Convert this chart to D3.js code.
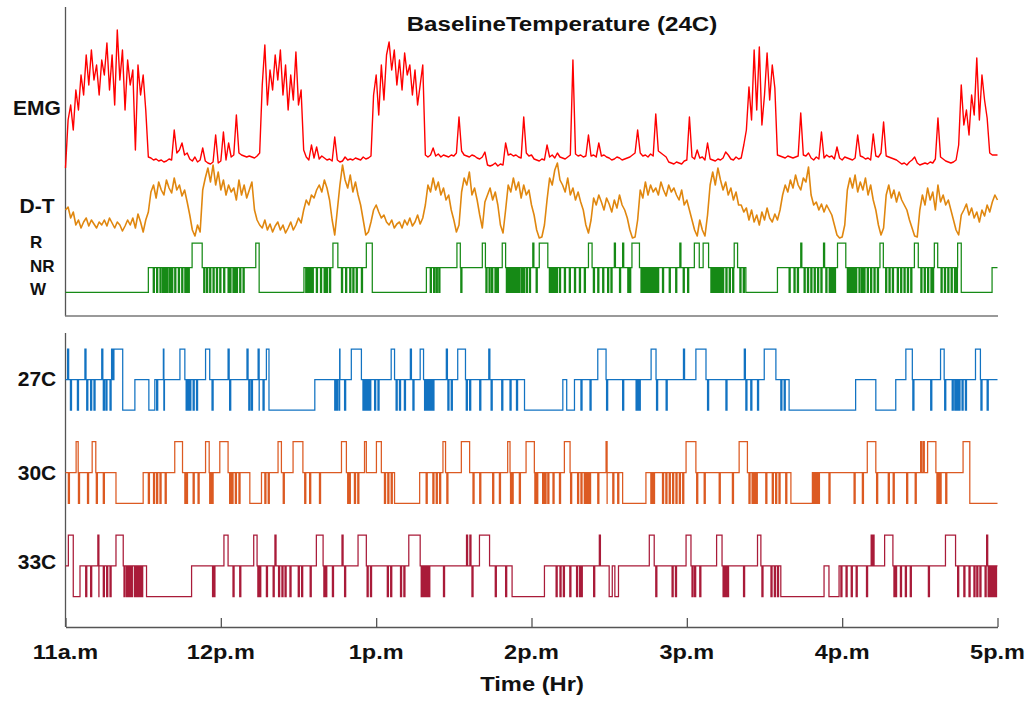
<!DOCTYPE html>
<html>
<head>
<meta charset="utf-8">
<script src="https://cdn.jsdelivr.net/npm/d3@7"></script>
<style>
html,body{margin:0;padding:0;background:#fff;}
svg{display:block;}
text{font-family:"Liberation Sans",Arial,Helvetica,sans-serif;font-weight:bold;fill:#111;}
</style>
</head>
<body>
<svg id="chart" width="1032" height="702"></svg>
<script>
// ---------------- DATA ----------------
const title = "BaselineTemperature (24C)";
const xLabel = "Time (Hr)";
const hourTicks = [0, 60, 120, 180, 240, 300, 360];           // minutes after 11 a.m.
const hourLabels = ["11a.m", "12p.m", "1p.m", "2p.m", "3p.m", "4p.m", "5p.m"];
const stateNames = ["W", "NR", "R"];

// EMG, one sample per minute (0..360), arbitrary units
const emg = [
 -3,45,60,35,75,55,90,70,110,80,115,85,100,70,105,90,122,75,110,60,135,85,115,55,105,80,95,15,100,70,90,55,8,
 7,5,6,4,5,3,4,6,5,35,12,15,22,10,12,6,4,8,3,5,17,4,2,1,3,30,2,4,33,5,22,8,10,50,12,10,9,8,9,8,7,9,12,
 80,120,60,95,75,110,85,115,70,100,55,90,65,113,60,75,15,
 8,5,20,7,18,6,9,7,5,6,4,28,5,3,4,8,5,6,5,7,6,5,8,6,7,9,
 70,90,50,100,65,110,123,95,115,80,105,75,112,90,100,70,95,60,80,100,10,
 8,10,17,9,11,8,10,9,8,10, 9,12,48,14,10,9,8,10,9,7, 6,8,13,0,-1,0,2,-1,1,0,
 22,10,11,9,10,8,7,48,12,9, 10,6,5,4,6,5,20,8,10,7, 12,8,7,6,8,10,105,11,9,10,
 8,9,30,9,10,8,22,9,10,8, 7,5,6,8,7,5,6,7,8,10, 12,35,12,9,10,8,11,9,51,14,
 12,10,8,3,2,1,3,2,1,4, 5,48,8,6,15,7,8,5,22,6, 5,4,6,5,7,13,10,6,5,8, 6,7,
 20,35,78,45,115,55,118,40,70,112,65,100,77,10,
 9,8,7,9,8,7,8,9,52,10, 9,12,7,5,8,6,33,7,10,8, 9,6,18,7,5,8,7,6,5,7,
 30,9,8,6,7,5,31,9,8,12, 43,9,8,7,6,5,3,1,2,0, 3,5,8,2,0,1,2,1,3,2, 6,47,8,6,4,3,2,3,5,20,
 80,40,55,30,70,50,107,45,90,65,47,12,10,10,10
];

// D-T, one sample per minute (0..360), arbitrary units
const dt = [
 30,33,22,28,15,20,12,18,22,14,20,16,12,18,15,20,14,22,17,12,18,15,9,14,20,15,22,12,26,18,8,20,28,
 48,55,42,58,50,45,60,52,47,62,50,55,44,50,38,25,10,4,15,8,50,62,72,58,75,55,68,50,60,45,55,48,52,40,60,45,55,42,50,58,30,20,15,
 12,20,10,16,8,14,18,10,15,7,12,18,10,15,22,17,30,
 40,35,45,42,50,55,48,60,52,40,20,5,30,55,75,60,52,65,48,58,45,35,20,5,8,18,
 30,35,28,22,25,18,15,20,12,16,18,12,20,15,22,14,18,25,16,22,35,
 55,48,62,50,58,45,52,40,45,30, 20,8,15,48,62,55,68,45,52,40, 25,12,38,45,52,40,48,35,15,7,
 30,55,48,62,50,58,42,55,45,50, 35,25,10,2,3,15,40,62,55,70, 77,60,55,48,62,45,52,40,48,38,
 30,15,7,20,42,35,45,38,30,42, 36,28,40,32,45,35,30,22,10,2, 3,20,50,42,58,45,55,48,52,45,
 58,50,44,55,48,52,45,40,50,35, 40,
 30,20,10,4,20,10,4,25,55,68,55,72,60,50,58,45,52,40,48,35,
 35,28,32,20,30,18,25,15,28,20,32,22,18,26,20,30,
 45,55,48,60,52,65,55,50,62,58,73,45,35,38,30,36,28,35,30,25,15,5,2,3,15,50,62,52,65,48,58,50,62,45,55,40,30,15,5,12,
 45,55,42,50,38,48,40,35,30,20,12,4,3,30,45,35,52,40,48,30,55,38,45,35,40,30,20,10,5,
 25,30,36,25,32,22,28,18,30,24,35,28,38,45,40
];

// Hypnograms: main bouts [start minute, state], brief W arousals, brief R intrusions (minutes)
const baseBouts = [[0,"W"],[32,"NR"],[48.9,"R"],[52.8,"NR"],[73.5,"R"],[74.8,"W"],[92.1,"NR"],[103.3,"R"],[105.2,"NR"],
 [116.2,"R"],[118.5,"W"],[139.4,"NR"],[151.2,"R"],[152.5,"NR"],[161,"R"],[162.2,"NR"],[168.7,"R"],[170,"NR"],[183,"R"],
 [186.3,"NR"],[202,"R"],[203.4,"NR"],[218.8,"R"],[221.7,"NR"],[242.9,"R"],[244.8,"NR"],[246.3,"R"],[248.4,"NR"],
 [258.3,"R"],[259.6,"NR"],[262.8,"W"],[275,"NR"],[298.2,"R"],[301.4,"NR"],[314.6,"R"],[315.9,"NR"],[327.9,"R"],
 [329.4,"NR"],[335.6,"R"],[336.9,"NR"],[344.6,"R"],[346,"W"],[357.9,"NR"]];
const baseArousals = [33.9,35.2,36.5,37.5,38.4,39.1,40.1,41,42.2,43.6,44.9,46.1,46.8,47.4,53.4,54.5,55.7,57,58.3,59.6,61.1,
 62.8,63.5,64.7,65.4,66,67.3,68.6,92.8,93.4,94,94.6,95.3,96.9,98.5,99.9,100.8,102,106.6,108.2,109.8,111,112.3,114.3,
 140.9,142.2,143.2,144.2,152.7,162.4,163.6,164.6,165.9,166.8,170.3,170.9,171.7,172.5,173.4,174.1,175,176,176.9,178,
 179.2,181.8,186.9,187.6,188.3,189,189.6,190.8,192.7,194.6,196.6,198.5,200.4,203.9,205.6,207.5,209.4,210.7,214,217.2,
 217.9,222.3,223,223.6,224.3,224.9,225.6,226.3,227,227.8,228.7,230.6,233.2,235.7,238.6,240.3,249.3,249.9,250.6,251.2,
 251.9,252.5,253.2,253.8,255.1,256.4,257.7,260.5,261.8,279.5,281.4,282.7,285.3,286.6,287.9,289.2,290.5,291.8,293.7,
 295,295.7,296.3,297,302,302.7,303.3,303.9,304.6,305.2,306.5,307.5,308.4,309.7,311,312.3,313.6,316.8,318.1,319.4,
 321.3,322.6,323.9,325.2,326.5,330.4,331.7,333,334.3,334.9,338.2,339.5,340.8,342.1,343.4,344.1];
const baseIntrusions = [180.5,212,215.2,237.3,284,292.8];

const c27Bouts = [[0,"NR"],[18.7,"R"],[22.1,"W"],[26.8,"NR"],[32.2,"W"],[34.5,"NR"],[44.2,"R"],[46.1,"NR"],[54.1,"R"],
 [55.7,"NR"],[77.6,"R"],[78.6,"W"],[96.3,"NR"],[110.4,"R"],[114.3,"NR"],[125.8,"R"],[127.1,"NR"],[137,"R"],[138.3,"NR"],
 [151.5,"R"],[154.5,"NR"],[177.3,"W"],[192.1,"NR"],[193.6,"W"],[196.6,"NR"],[205.6,"R"],[208.8,"NR"],[226.2,"R"],
 [228.1,"NR"],[243.5,"R"],[247.4,"NR"],[269.9,"R"],[274.4,"NR"],[279.5,"W"],[305.2,"NR"],[313,"W"],[320.7,"NR"],
 [324.6,"R"],[327.1,"NR"],[338,"R"],[339.4,"NR"],[351.5,"R"],[353.4,"NR"]];
const c27Arousals = [1.9,4.6,8.2,9.7,11,14.6,15.6,17.2,35.2,38,46.6,47.3,48,49.3,50.6,56.6,63.4,70.8,71.8,74.8,76.3,
 104,104.6,105.6,107.8,114.9,115.6,116.2,116.9,117.5,119.4,120.7,127.7,129,130.9,134.2,138.7,139.3,140,140.6,141.3,
 141.9,147.7,149,154.8,156.1,160,164.4,168.5,171.7,174.2,199.1,202.6,209,215.2,220.4,221,221.6,228.3,232,248,255.1,
 262.8,264.7,267.3,276.3,277.6,327.3,334.2,339.6,342.5,343.5,344.3,345.1,346.3,347.6,353.6,356];
const c27Intrusions = [0.8,7.5,14,17.8,37.8,62.8,70.1,74.4,105.9,133.2,147.1,163.5,238.7,262.2];

const c30Bouts = [[0,"NR"],[4.1,"R"],[4.9,"NR"],[10.3,"R"],[11.7,"NR"],[19.5,"W"],[30,"NR"],[42.2,"R"],[45.2,"NR"],
 [54.1,"R"],[55.5,"NR"],[59.6,"R"],[62.8,"NR"],[71.2,"W"],[75.7,"NR"],[82.1,"R"],[83.4,"NR"],[87.9,"R"],[91.7,"NR"],
 [106.6,"R"],[108.5,"NR"],[115.5,"R"],[116.2,"NR"],[120.1,"R"],[122,"NR"],[127.1,"W"],[136.8,"NR"],[145.8,"R"],
 [146.8,"NR"],[152.9,"R"],[156.1,"NR"],[170.8,"R"],[171.7,"NR"],[177.9,"R"],[181.1,"NR"],[192.7,"R"],[194.9,"NR"],
 [215.2,"W"],[224.2,"NR"],[239.7,"R"],[243.5,"NR"],[260.2,"R"],[263.4,"NR"],[280.2,"W"],[288.5,"NR"],[309.7,"R"],
 [313,"NR"],[333,"R"],[336.2,"NR"],[346.7,"R"],[349.3,"W"]];
const c30Arousals = [1.1,5,8.5,11.9,14.6,32,34,35.2,36.5,38.5,46.1,46.7,49.3,51.2,55.7,56.6,63.4,64.3,65.6,67,77,78.3,
 84.1,92.4,94.3,98.1,109,109.6,111.6,112.9,123.2,124.5,125.8,139.3,141.9,143.2,144.5,147.3,157.4,160,165,167.6,171.9,
 172.5,175.3,181.3,182,184.3,185.2,186.3,188.3,190.8,195.1,197.8,199.1,200.4,201,201.6,202.4,205.6,209.2,211.4,213.3,
 226.1,226.6,227.1,230.6,231.9,233.2,234.5,235.8,237.1,238.4,243.8,246.7,252.5,257.6,264,265.2,266,266.8,270.5,273,
 274.3,275.6,278.2,288.8,289.3,289.8,290.3,290.8,294.9,304.6,307.8,313.3,317.8,319.7,324.9,328.2,336.6,337.2,337.8,340];
const c30Intrusions = [208.8,330.3,331.3];

const c33Bouts = [[0,"NR"],[1.1,"R"],[3,"W"],[5.6,"NR"],[19.5,"R"],[22.3,"NR"],[31.3,"W"],[48.7,"NR"],[61.2,"R"],
 [62.8,"NR"],[72.7,"R"],[74,"NR"],[96.9,"R"],[99.5,"NR"],[113,"R"],[116.2,"NR"],[132.6,"R"],[137,"NR"],[159.9,"R"],
 [163.8,"NR"],[172.5,"W"],[185,"NR"],[210,"W"],[211.2,"NR"],[212.2,"W"],[213.6,"NR"],[225.5,"R"],[227.4,"NR"],
 [239.7,"R"],[241.6,"NR"],[251.5,"R"],[253.6,"NR"],[267.3,"R"],[268.6,"NR"],[276.3,"W"],[293,"NR"],[294.9,"W"],
 [298.8,"NR"],[316.4,"R"],[319.6,"NR"],[339.9,"R"],[343.8,"NR"]];
const c33Arousals = [7.8,9.7,12.9,14.6,15.9,17.2,22.6,23.6,24.5,25.4,26.6,27.5,28.2,28.8,29.4,56.8,57.3,64.7,67.3,74.3,
 75,77.6,80.2,82.3,83.6,84.8,86.7,89.9,91.2,94.5,99.8,100.5,103.1,107.8,116.5,117.8,124.3,125.6,129.4,130.7,137.4,
 137.9,138.4,139,139.6,140.3,146,157,166,170,189.5,191,192.3,194.8,197.4,198.6,199.2,204,228,234.3,235.6,242,243,245,
 254,254.6,255.2,255.7,261.9,269,272.5,273.8,275,299.5,301.5,303.5,305.4,309.4,320,320.6,322.5,324.4,326.3,333.3,
 344.6,347,349,350.9,352,353.2,355.2,356.4,357.1,357.8,358.5,359.2];
const c33Intrusions = [12.5,80.9,106.8,154.9,156.2,206.2,311.2,311.9,355.8];

// ---------------- DRAW ----------------
const svg = d3.select("#chart");
const x = d3.scaleLinear().domain([0, 360]).range([65.5, 997.5]);
const axisColor = "#555";

function buildSteps(bouts, arousals, intrusions, w) {
  const idx = s => stateNames.indexOf(s);
  const stateAt = t => { let s = idx(bouts[0][1]); for (const [bt, bs] of bouts) { if (bt <= t) s = idx(bs); else break; } return s; };
  const ev = bouts.map(([t, s]) => ({t, s: idx(s)}));
  arousals.forEach(t => { ev.push({t, s: 0}); ev.push({t: t + w, s: stateAt(t + w)}); });
  intrusions.forEach(t => { ev.push({t, s: 2}); ev.push({t: t + w, s: stateAt(t + w)}); });
  ev.sort((a, b) => a.t - b.t);
  ev.push({t: 360, s: ev[ev.length - 1].s});
  return ev;
}

// top panel axes
svg.append("line").attr("x1", 65.5).attr("x2", 65.5).attr("y1", 7).attr("y2", 316)
  .attr("stroke", axisColor).attr("stroke-width", 1.3);
svg.append("line").attr("x1", 65).attr("x2", 998).attr("y1", 316).attr("y2", 316)
  .attr("stroke", "#777").attr("stroke-width", 1.6);

// bottom panel axes
svg.append("line").attr("x1", 65.5).attr("x2", 65.5).attr("y1", 333).attr("y2", 627)
  .attr("stroke", axisColor).attr("stroke-width", 1.3);
const xAxis = d3.axisBottom(x).tickValues(hourTicks).tickSizeInner(-9).tickSizeOuter(0).tickFormat("");
const gx = svg.append("g").attr("transform", "translate(0,627)").call(xAxis);
gx.select(".domain").attr("stroke", axisColor).attr("stroke-width", 1.3);
gx.selectAll(".tick line").attr("stroke", axisColor).attr("stroke-width", 1.3);

// EMG
const yEmg = d3.scaleLinear().domain([-5, 135]).range([170, 30]);
svg.append("path").datum(emg)
  .attr("d", d3.line().x((d, i) => x(i)).y(d => yEmg(d)))
  .attr("fill", "none").attr("stroke", "#ff0000").attr("stroke-width", 1.4).attr("stroke-linejoin", "round");

// D-T
const yDt = d3.scaleLinear().domain([0, 80]).range([240, 160]);
svg.append("path").datum(dt)
  .attr("d", d3.line().x((d, i) => x(i)).y(d => yDt(d)))
  .attr("fill", "none").attr("stroke", "#e0870f").attr("stroke-width", 1.6).attr("stroke-linejoin", "round");

// hypnograms
const hyp = [
  {bouts: baseBouts, ar: baseArousals, ri: baseIntrusions, color: "#168a16", W: 292.3, R: 243},
  {bouts: c27Bouts, ar: c27Arousals, ri: c27Intrusions, color: "#1273c2", W: 410, R: 349},
  {bouts: c30Bouts, ar: c30Arousals, ri: c30Intrusions, color: "#dc5a22", W: 503.3, R: 441.7},
  {bouts: c33Bouts, ar: c33Arousals, ri: c33Intrusions, color: "#a91b39", W: 596.7, R: 535}
];
hyp.forEach(h => {
  const y = d3.scaleLinear().domain([0, 2]).range([h.W, h.R]);
  const steps = buildSteps(h.bouts, h.ar, h.ri, 0.42);
  svg.append("path").datum(steps)
    .attr("d", d3.line().curve(d3.curveStepAfter).x(d => x(d.t)).y(d => y(d.s)))
    .attr("fill", "none").attr("stroke", h.color).attr("stroke-width", 1.25);
});

// texts
function stretchedText(str, cx, cy, size, sx) {
  svg.append("text").attr("transform", `translate(${cx},${cy}) scale(${sx},1)`)
    .attr("text-anchor", "middle").attr("font-size", size).text(str);
}
stretchedText(title, 562, 31, 21, 1.15);
hourTicks.forEach((t, i) => stretchedText(hourLabels[i], x(t), 659, 21, 1.12));
stretchedText(xLabel, 532, 691, 21, 1.13);

const yLabels = [["EMG", 115], ["D-T", 213], ["27C", 386], ["30C", 480], ["33C", 569]];
yLabels.forEach(([s, yy]) => svg.append("text").attr("x", 37).attr("y", yy)
  .attr("text-anchor", "middle").attr("font-size", 21).text(s));
const stateLabels = [["R", 248], ["NR", 272], ["W", 295]];
stateLabels.forEach(([s, yy]) => svg.append("text").attr("x", 30).attr("y", yy)
  .attr("font-size", 17).text(s));
</script>
</body>
</html>
